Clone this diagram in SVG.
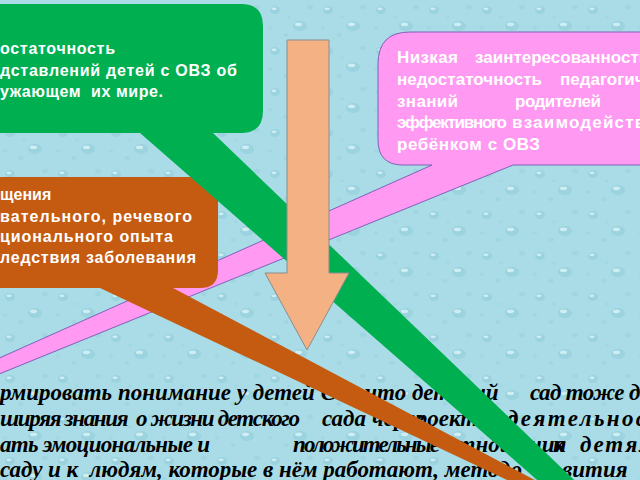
<svg xmlns="http://www.w3.org/2000/svg" width="640" height="480" viewBox="0 0 640 480">
<defs>
<pattern id="drops" width="53" height="41" patternUnits="userSpaceOnUse">
<rect width="53" height="41" fill="#A9DCE6"/>
<ellipse cx="10" cy="10" rx="5" ry="4" fill="#9AD3DF"/>
<ellipse cx="9" cy="8.8" rx="2.6" ry="1.4" fill="#CDEDF2"/>
<ellipse cx="35" cy="26" rx="7" ry="5" fill="#9BD3DF"/>
<ellipse cx="33.5" cy="24.3" rx="3.6" ry="1.9" fill="#CFEEF3"/>
<ellipse cx="21" cy="35" rx="2.6" ry="2" fill="#A0D6E1"/>
<ellipse cx="45" cy="7" rx="3" ry="2.3" fill="#A0D6E1"/>
<ellipse cx="5" cy="28" rx="2.2" ry="1.8" fill="#A1D7E2"/>
<ellipse cx="24" cy="17" rx="1.8" ry="1.4" fill="#A2D7E2"/>
</pattern>
<style>
.cap{font-family:"Liberation Sans",Arial,sans-serif;font-weight:bold;font-size:16px;fill:#FFFFFF;white-space:pre}
.pk{font-size:17px}
.body{font-family:"Liberation Serif","Times New Roman",serif;font-style:italic;font-weight:bold;font-size:23px;fill:#000000;white-space:pre}
</style>
</defs>
<rect width="640" height="480" fill="url(#drops)"/>

<g id="main-text">
<text class="body" x="0" y="400" textLength="336">рмировать понимание у детей С</text>
<text class="body" x="365" y="400">что детский</text>
<text class="body" x="530" y="400" letter-spacing="-0.6">сад тоже должен</text>
<text class="body" x="0" y="426" textLength="300">ширяя знания  о жизни детского</text>
<text class="body" x="322" y="426">сада через</text>
<text class="body" x="403" y="426">проектную</text>
<text class="body" x="507" y="426" letter-spacing="2.4">деятельностью</text>
<text class="body" x="0" y="452" textLength="210">ать эмоциональные и</text>
<text class="body" x="293" y="452" textLength="147">положительные</text>
<text class="body" x="446" y="452">отношения</text>
<text class="body" x="553" y="452">к</text>
<text class="body" x="580" y="452" letter-spacing="2">детям</text>
<text class="body" x="0" y="477" textLength="522">саду и к  людям, которые в нём работают, методо</text>
<text class="body" x="562" y="477">вития</text>
</g>

<g id="parents">
<path d="M410,32 H680 V165 H513 L-50,394 L-50,380 L432,165 H403 Q378,165 378,140 V64 Q378,32 410,32 Z" fill="#FF99F2" stroke="#7F62B8" stroke-width="1"/>
<text class="cap pk" x="397" y="63" textLength="61">Низкая</text>
<text class="cap pk" x="475" y="63">заинтересованность</text>
<text class="cap pk" x="397" y="85" textLength="145">недостаточность</text>
<text class="cap pk" x="560" y="85">педагогических</text>
<text class="cap pk" x="397" y="106.5" textLength="61">знаний</text>
<text class="cap pk" x="515" y="106.5" textLength="86">родителей</text>
<text class="cap pk" x="397" y="128" textLength="110">эффективного</text>
<text class="cap pk" x="512" y="128" letter-spacing="1.2">взаимодействия</text>
<text class="cap pk" x="397" y="149.5" textLength="143">ребёнком с ОВЗ</text>
</g>

<g id="experience">
<path d="M-40,177 H196 Q218,177 218,199 V270 Q218,288 200,288 H173 L595,512 L575,512 L100,288 H-40 Z" fill="#C55A11"/>
<text class="cap" x="0" y="200">щения</text>
<text class="cap" x="0" y="221.5" textLength="192">вательного, речевого</text>
<text class="cap" x="0" y="242" textLength="173">ционального опыта</text>
<text class="cap" x="0" y="263" textLength="196">ледствия заболевания</text>
</g>

<g id="ideas">
<path d="M-40,4 H241 Q263,4 263,26 V111 Q263,133 241,133 H213 L595,500 L560,500 L140,133 H-40 Z" fill="#00B050"/>
<text class="cap" x="0" y="53.5" textLength="115">остаточность</text>
<text class="cap" x="0" y="75.5" textLength="237">дставлений детей с ОВЗ об</text>
<text class="cap" x="0" y="97" textLength="163">ужающем  их мире.</text>
</g>

<g id="connectors">
<path d="M287,40 H329 V273 H349 L307,350 L265,273 H287 Z" fill="#F4B183" stroke="#8C8C8C" stroke-width="1"/>
</g>
</svg>
